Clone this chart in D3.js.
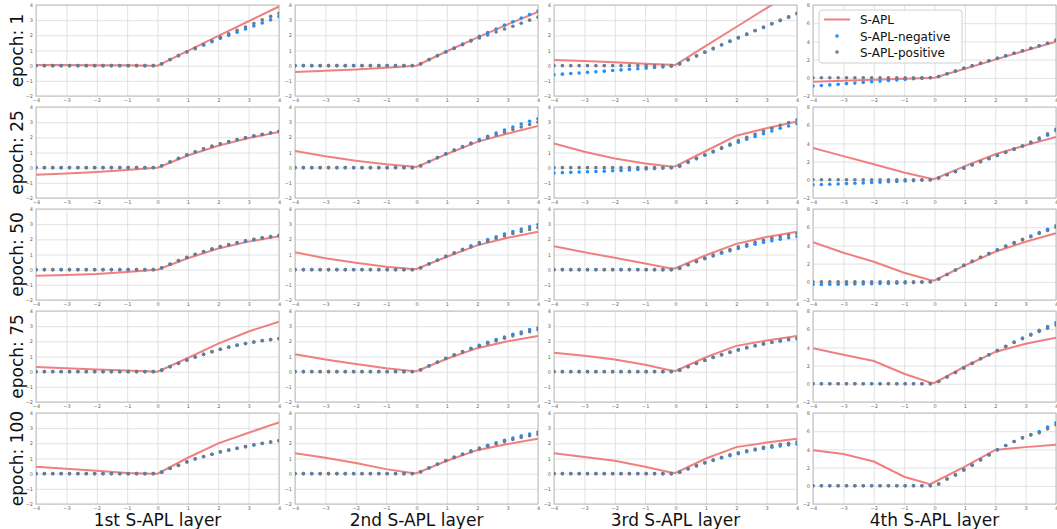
<!DOCTYPE html>
<html lang="en">
<head>
    <meta charset="UTF-8">
    <title>S-APL activations</title>
    <script src="https://d3js.org/d3.v7.min.js"></script>
    <style>
        body { margin: 0; background: white; }
        text { font-family: "DejaVu Sans", sans-serif; }
    </style>
</head>
<body>
    <div id="chart"></div>

    <script>
        // labels ------------------------------------------------------------
        const epochs = [1, 25, 50, 75, 100];
        const layers = ["1st S-APL layer", "2nd S-APL layer", "3rd S-APL layer", "4th S-APL layer"];
        const seriesNames = ["S-APL", "S-APL-negative", "S-APL-positive"];

        // x positions of the sampled dots and of the line's nodes
        const dotX = [-4, -3.724, -3.448, -3.172, -2.897, -2.621, -2.345, -2.069, -1.793, -1.517,
            -1.241, -0.966, -0.690, -0.414, -0.138, 0.138, 0.414, 0.690, 0.966, 1.241,
            1.517, 1.793, 2.069, 2.345, 2.621, 2.897, 3.172, 3.448, 3.724, 4];
        const lineX = [-4, -3, -2, -1, -0.15, 0, 1, 2, 3, 4];

        // tick values
        const xTicks = [-4, -3, -2, -1, 0, 1, 2, 3, 4];
        const yTicksSmall = [-2, -1, 0, 1, 2, 3, 4];
        const yTicksBig = [-2, 0, 2, 4, 6, 8];

        const Z = [0, 0, 0, 0, 0, 0, 0, 0, 0, 0, 0, 0, 0, 0, 0];

        // S-APL line, one array per panel (row by row, left to right)
        const aplLine = [
            [0.05, 0.04, 0.03, 0.02, 0.0, 0.0, 0.98, 1.96, 2.93, 3.9],
            [-0.42, -0.34, -0.26, -0.13, -0.02, 0, 0.95, 1.85, 2.72, 3.55],
            [0.38, 0.3, 0.22, 0.12, 0.06, 0.05, 1.3, 2.55, 3.8, 5.0],
            [-0.43, -0.33, -0.22, -0.1, -0.01, 0, 1.0, 2.0, 3.0, 3.97],

            [-0.47, -0.38, -0.28, -0.15, -0.02, 0, 0.8, 1.45, 1.95, 2.35],
            [1.1, 0.75, 0.45, 0.22, 0.07, 0.05, 0.9, 1.7, 2.25, 2.75],
            [1.6, 1.05, 0.6, 0.27, 0.08, 0.1, 1.1, 2.1, 2.6, 3.05],
            [3.5, 2.6, 1.7, 0.8, 0.15, 0.1, 1.5, 2.8, 3.8, 4.7],

            [-0.4, -0.35, -0.28, -0.15, -0.02, 0, 0.75, 1.4, 1.85, 2.2],
            [1.15, 0.75, 0.45, 0.2, 0.05, 0.05, 0.85, 1.6, 2.1, 2.5],
            [1.55, 1.15, 0.78, 0.4, 0.08, 0.1, 0.95, 1.7, 2.15, 2.5],
            [4.35, 3.2, 2.2, 1.0, 0.2, 0.15, 1.8, 3.3, 4.4, 5.35],

            [0.3, 0.22, 0.15, 0.08, 0.01, 0, 0.9, 1.85, 2.65, 3.3],
            [1.15, 0.8, 0.5, 0.22, 0.04, 0.03, 0.85, 1.55, 2.0, 2.35],
            [1.25, 1.05, 0.8, 0.45, 0.08, 0.05, 0.95, 1.7, 2.05, 2.35],
            [3.9, 3.2, 2.5, 1.1, 0.15, 0.1, 1.9, 3.5, 4.4, 5.05],

            [0.46, 0.33, 0.2, 0.05, 0.0, 0.0, 1.05, 2.0, 2.7, 3.37],
            [1.35, 1.05, 0.7, 0.3, 0.05, 0.03, 0.85, 1.55, 1.95, 2.3],
            [1.35, 1.1, 0.85, 0.45, 0.08, 0.05, 1.0, 1.75, 2.05, 2.3],
            [3.9, 3.5, 2.67, 1.0, 0.18, 0.42, 2.1, 3.95, 4.25, 4.5]
        ];

        // S-APL-negative dots
        const aplNeg = [
            [...Z, 0.12, 0.4, 0.66, 0.9, 1.12, 1.35, 1.58, 1.8, 2.0, 2.2, 2.42, 2.62, 2.82, 3.02, 3.25],
            [...Z, 0.12, 0.4, 0.66, 0.92, 1.16, 1.42, 1.68, 1.93, 2.18, 2.42, 2.67, 2.9, 3.14, 3.37, 3.6],
            [-0.6, -0.56, -0.52, -0.48, -0.44, -0.4, -0.36, -0.32, -0.28, -0.24, -0.2, -0.16, -0.12, -0.08, -0.04,
                0.12, 0.38, 0.63, 0.88, 1.12, 1.36, 1.6, 1.83, 2.06, 2.3, 2.52, 2.75, 2.97, 3.2, 3.42],
            [-0.9, -0.84, -0.78, -0.72, -0.64, -0.58, -0.5, -0.43, -0.36, -0.3, -0.24, -0.17, -0.1, -0.04, 0,
                0.15, 0.45, 0.75, 1.05, 1.33, 1.6, 1.88, 2.15, 2.43, 2.7, 2.98, 3.25, 3.52, 3.8, 4.12],

            [...Z, 0.12, 0.37, 0.6, 0.83, 1.03, 1.23, 1.4, 1.56, 1.7, 1.84, 1.96, 2.08, 2.18, 2.28, 2.38],
            [...Z, 0.12, 0.4, 0.66, 0.92, 1.16, 1.4, 1.63, 1.85, 2.07, 2.28, 2.48, 2.68, 2.88, 3.06, 3.22],
            [-0.35, -0.33, -0.31, -0.29, -0.27, -0.25, -0.23, -0.2, -0.18, -0.15, -0.12, -0.09, -0.06, -0.03, 0,
                0.1, 0.35, 0.58, 0.82, 1.04, 1.26, 1.48, 1.68, 1.88, 2.06, 2.24, 2.42, 2.6, 2.75, 2.9],
            [-0.55, -0.52, -0.49, -0.46, -0.42, -0.38, -0.34, -0.3, -0.26, -0.22, -0.18, -0.14, -0.1, -0.05, -0.02,
                0.2, 0.55, 0.9, 1.28, 1.62, 1.97, 2.32, 2.66, 3.0, 3.34, 3.68, 4.05, 4.45, 4.9, 5.4],

            [...Z, 0.12, 0.36, 0.59, 0.8, 1.0, 1.18, 1.35, 1.5, 1.63, 1.76, 1.88, 1.98, 2.08, 2.16, 2.22],
            [...Z, 0.12, 0.39, 0.64, 0.88, 1.12, 1.35, 1.57, 1.78, 1.98, 2.17, 2.35, 2.52, 2.68, 2.83, 2.98],
            [...Z, 0.1, 0.32, 0.52, 0.72, 0.9, 1.08, 1.24, 1.4, 1.54, 1.68, 1.8, 1.91, 2.01, 2.1, 2.18],
            [-0.3, -0.29, -0.28, -0.27, -0.26, -0.25, -0.24, -0.22, -0.2, -0.18, -0.15, -0.12, -0.09, -0.05, -0.02,
                0.3, 0.8, 1.3, 1.8, 2.25, 2.7, 3.1, 3.52, 3.93, 4.3, 4.67, 5.03, 5.4, 5.78, 6.15],

            [...Z, 0.1, 0.33, 0.55, 0.76, 0.96, 1.14, 1.31, 1.47, 1.61, 1.74, 1.85, 1.95, 2.04, 2.11, 2.17],
            [...Z, 0.12, 0.39, 0.64, 0.88, 1.11, 1.33, 1.54, 1.74, 1.93, 2.11, 2.29, 2.46, 2.62, 2.77, 2.9],
            [...Z, 0.1, 0.32, 0.54, 0.74, 0.93, 1.1, 1.27, 1.42, 1.56, 1.69, 1.81, 1.92, 2.01, 2.1, 2.17],
            [...Z, 0.25, 0.75, 1.25, 1.75, 2.25, 2.75, 3.2, 3.65, 4.12, 4.6, 5.02, 5.45, 5.88, 6.28, 6.7],

            [...Z, 0.1, 0.34, 0.54, 0.77, 0.97, 1.12, 1.28, 1.43, 1.55, 1.67, 1.78, 1.89, 1.99, 2.08, 2.17],
            [...Z, 0.12, 0.39, 0.63, 0.87, 1.09, 1.3, 1.5, 1.69, 1.87, 2.04, 2.2, 2.35, 2.49, 2.62, 2.74],
            [...Z, 0.1, 0.31, 0.51, 0.7, 0.87, 1.03, 1.18, 1.32, 1.45, 1.56, 1.66, 1.75, 1.83, 1.9, 1.96],
            [...Z, 0.2, 0.75, 1.2, 1.75, 2.27, 2.85, 3.4, 3.95, 4.43, 4.87, 5.27, 5.6, 5.97, 6.45, 6.92]
        ];

        // S-APL-positive dots
        const aplPos = [
            [...Z, 0.12, 0.4, 0.66, 0.92, 1.16, 1.4, 1.64, 1.88, 2.1, 2.33, 2.55, 2.78, 3.02, 3.25, 3.45],
            [...Z, 0.12, 0.4, 0.66, 0.9, 1.14, 1.38, 1.62, 1.83, 2.03, 2.22, 2.42, 2.6, 2.8, 3.0, 3.2],
            [...Z, 0.12, 0.4, 0.65, 0.9, 1.14, 1.38, 1.62, 1.85, 2.08, 2.32, 2.55, 2.78, 3.0, 3.22, 3.45],
            [...Z, 0.15, 0.45, 0.75, 1.05, 1.33, 1.6, 1.88, 2.15, 2.43, 2.7, 2.98, 3.25, 3.52, 3.8, 4.12],

            [...Z, 0.12, 0.38, 0.62, 0.85, 1.05, 1.25, 1.42, 1.58, 1.72, 1.86, 1.98, 2.1, 2.2, 2.3, 2.4],
            [...Z, 0.12, 0.4, 0.66, 0.9, 1.14, 1.36, 1.58, 1.78, 1.98, 2.16, 2.34, 2.52, 2.68, 2.85, 3.0],
            [...Z, 0.12, 0.38, 0.62, 0.85, 1.08, 1.32, 1.55, 1.78, 2.0, 2.2, 2.4, 2.6, 2.8, 2.98, 3.15],
            [...Z, 0.2, 0.55, 0.9, 1.3, 1.65, 2.0, 2.35, 2.7, 3.05, 3.4, 3.75, 4.15, 4.6, 5.05, 5.55],

            [...Z, 0.12, 0.37, 0.6, 0.82, 1.02, 1.2, 1.37, 1.52, 1.65, 1.78, 1.9, 2.0, 2.1, 2.18, 2.26],
            [...Z, 0.12, 0.38, 0.62, 0.86, 1.08, 1.3, 1.5, 1.7, 1.88, 2.06, 2.22, 2.38, 2.52, 2.65, 2.78],
            [...Z, 0.1, 0.33, 0.55, 0.76, 0.96, 1.15, 1.33, 1.5, 1.66, 1.8, 1.94, 2.06, 2.18, 2.28, 2.38],
            [...Z, 0.3, 0.8, 1.3, 1.8, 2.25, 2.7, 3.1, 3.5, 3.9, 4.25, 4.6, 4.95, 5.3, 5.65, 6.0],

            [...Z, 0.1, 0.33, 0.55, 0.77, 0.97, 1.15, 1.32, 1.48, 1.62, 1.75, 1.86, 1.96, 2.05, 2.12, 2.18],
            [...Z, 0.12, 0.38, 0.62, 0.86, 1.08, 1.29, 1.49, 1.68, 1.86, 2.03, 2.2, 2.36, 2.5, 2.64, 2.76],
            [...Z, 0.1, 0.33, 0.55, 0.76, 0.95, 1.13, 1.3, 1.46, 1.6, 1.73, 1.85, 1.96, 2.06, 2.15, 2.22],
            [...Z, 0.25, 0.75, 1.25, 1.75, 2.25, 2.75, 3.2, 3.65, 4.1, 4.55, 4.95, 5.35, 5.75, 6.1, 6.45],

            [...Z, 0.1, 0.35, 0.55, 0.78, 0.98, 1.13, 1.28, 1.44, 1.56, 1.68, 1.78, 1.9, 2.0, 2.08, 2.18],
            [...Z, 0.12, 0.38, 0.62, 0.85, 1.06, 1.26, 1.45, 1.63, 1.8, 1.96, 2.11, 2.25, 2.38, 2.5, 2.6],
            [...Z, 0.1, 0.32, 0.53, 0.73, 0.91, 1.08, 1.24, 1.38, 1.51, 1.63, 1.74, 1.84, 1.93, 2.01, 2.08],
            [...Z, 0.2, 0.75, 1.2, 1.75, 2.27, 2.85, 3.4, 3.95, 4.43, 4.87, 5.27, 5.6, 5.82, 6.26, 6.7]
        ];

        // layout ------------------------------------------------------------
        const width = 1057, height = 529;
        const panelW = 243, panelH = 91;
        const colLeft = [36, 295, 554, 813];
        const rowTop = [5, 107, 209, 311, 413];

        const lineColor = "#f08080";
        const negColor = "#1e90ff";
        const posColor = "#6e7b8b";

        const svg = d3.select("#chart").append("svg")
            .attr("width", width)
            .attr("height", height);

        const xScale = d3.scaleLinear().domain([-4, 4]).range([0, panelW]);
        const yScaleSmall = d3.scaleLinear().domain([-2, 4]).range([panelH, 0]);
        const yScaleBig = d3.scaleLinear().domain([-2, 8]).range([panelH, 0]);

        const tickFmt = d => d < 0 ? "\u2212" + Math.abs(d) : String(d);

        epochs.forEach((ep, r) => {
            layers.forEach((lay, c) => {
                const idx = r * 4 + c;
                const big = c === 3;
                const yScale = big ? yScaleBig : yScaleSmall;
                const yTicks = big ? yTicksBig : yTicksSmall;

                const g = svg.append("g")
                    .attr("transform", `translate(${colLeft[c]},${rowTop[r]})`);

                g.append("rect")
                    .attr("width", panelW)
                    .attr("height", panelH)
                    .attr("fill", "white");

                // clip so the line stays inside the frame
                g.append("clipPath").attr("id", "clip" + idx)
                    .append("rect").attr("width", panelW).attr("height", panelH);

                // grid
                const xAxis = d3.axisBottom(xScale).tickValues(xTicks)
                    .tickSize(-panelH).tickFormat(tickFmt).tickPadding(2);
                const yAxis = d3.axisLeft(yScale).tickValues(yTicks)
                    .tickSize(-panelW).tickFormat(tickFmt).tickPadding(3);

                const gx = g.append("g").attr("transform", `translate(0,${panelH})`).call(xAxis);
                const gy = g.append("g").call(yAxis);
                [gx, gy].forEach(a => {
                    a.select(".domain").remove();
                    a.selectAll(".tick line").attr("stroke", "#dadada").attr("stroke-width", 0.8);
                    a.selectAll(".tick text")
                        .attr("fill", "#666")
                        .style("font-size", "5px");
                });

                g.append("rect")
                    .attr("width", panelW)
                    .attr("height", panelH)
                    .attr("fill", "none")
                    .attr("stroke", "#bdbdbd")
                    .attr("stroke-width", 1);

                const plot = g.append("g").attr("clip-path", `url(#clip${idx})`);

                const line = d3.line()
                    .x((d, i) => xScale(lineX[i]))
                    .y(d => yScale(d));

                plot.append("path")
                    .datum(aplLine[idx])
                    .attr("d", line)
                    .attr("fill", "none")
                    .attr("stroke", lineColor)
                    .attr("stroke-width", 2);

                plot.selectAll("circle.neg")
                    .data(aplNeg[idx])
                    .join("circle")
                    .attr("class", "neg")
                    .attr("cx", (d, i) => xScale(dotX[i]))
                    .attr("cy", d => yScale(d))
                    .attr("r", 1.8)
                    .attr("fill", negColor);

                plot.selectAll("circle.pos")
                    .data(aplPos[idx])
                    .join("circle")
                    .attr("class", "pos")
                    .attr("cx", (d, i) => xScale(dotX[i]))
                    .attr("cy", d => yScale(d))
                    .attr("r", 1.8)
                    .attr("fill", posColor);
            });
        });

        // row labels
        epochs.forEach((ep, r) => {
            svg.append("text")
                .attr("transform", `translate(23,${rowTop[r] + panelH / 2}) rotate(-90)`)
                .attr("text-anchor", "middle")
                .style("font-size", "17px")
                .attr("fill", "#111")
                .text("epoch: " + ep);
        });

        // column labels
        layers.forEach((lay, c) => {
            svg.append("text")
                .attr("x", colLeft[c] + panelW / 2)
                .attr("y", 526)
                .attr("text-anchor", "middle")
                .style("font-size", "17px")
                .attr("fill", "#111")
                .text(lay);
        });

        // legend
        const legend = svg.append("g").attr("transform", "translate(819,10)");
        legend.append("rect")
            .attr("width", 143)
            .attr("height", 53)
            .attr("rx", 3)
            .attr("fill", "white")
            .attr("fill-opacity", 0.9)
            .attr("stroke", "#d0d0d0");
        legend.append("line")
            .attr("x1", 5).attr("x2", 31).attr("y1", 9.5).attr("y2", 9.5)
            .attr("stroke", lineColor).attr("stroke-width", 2);
        legend.append("circle").attr("cx", 18).attr("cy", 26).attr("r", 1.8).attr("fill", negColor);
        legend.append("circle").attr("cx", 18).attr("cy", 42).attr("r", 1.8).attr("fill", posColor);
        seriesNames.forEach((s, i) => {
            legend.append("text")
                .attr("x", 41)
                .attr("y", 14 + i * 16.5)
                .style("font-size", "12px")
                .attr("fill", "#111")
                .text(s);
        });
    </script>
</body>
</html>
